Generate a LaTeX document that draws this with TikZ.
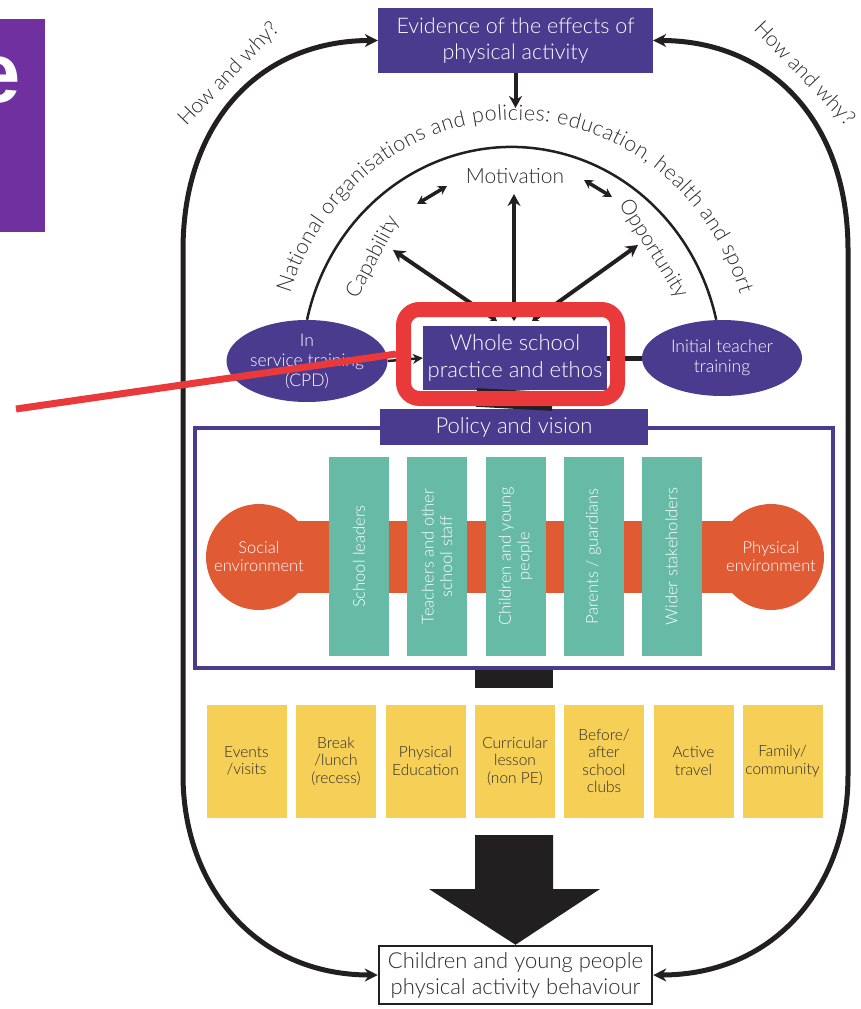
\documentclass[tikz,border=0pt]{standalone}
\usepackage{fontspec}
\IfFontExistsTF{Lato Light}{\setmainfont{Lato Light}}{\setmainfont{Lato}}
\newfontfamily\slidefont{Liberation Sans}
\usetikzlibrary{arrows.meta,decorations.text,shapes.geometric}

\definecolor{slidepurple}{RGB}{112,48,160}
\definecolor{deeppurple}{RGB}{74,59,143}
\definecolor{tealbox}{RGB}{102,186,166}
\definecolor{envorange}{RGB}{224,90,52}
\definecolor{actyellow}{RGB}{246,207,86}
\definecolor{callred}{RGB}{233,57,59}
\definecolor{ink}{RGB}{33,31,32}
\definecolor{txt}{RGB}{45,43,45}

\newcommand{\pxsize}[2]{\fontsize{#1}{#2}\selectfont}

\begin{document}
\begin{tikzpicture}[x=1pt,y=-1pt,
  panel/.style={rectangle, fill=deeppurple, text=white, align=center, inner sep=0pt},
  oval/.style={ellipse, fill=deeppurple, text=white, align=center, inner sep=0pt, font=\pxsize{17.5}{20}},
  group/.style={rectangle, fill=tealbox, text=white, align=center, inner sep=0pt, rotate=90,
    minimum width=199pt, minimum height=60pt, font=\pxsize{16.5}{18.5}},
  setting/.style={rectangle, fill=actyellow, text=txt, align=center, inner sep=0pt,
    minimum width=80pt, minimum height=113pt, font=\pxsize{15.5}{17.5}},
  env/.style={circle, fill=envorange, text=white, align=center, inner sep=0pt,
    minimum size=106pt, font=\pxsize{16.5}{18}},
  cue/.style={text=txt, inner sep=0pt, font=\pxsize{21}{25}},
  loopline/.style={ink, line width=5pt,
    {Stealth[length=13pt,width=13pt]}-{Stealth[length=13pt,width=13pt]}},
  spoke/.style={ink, line width=4pt,
    {Stealth[length=6pt,width=8pt]}-{Stealth[length=12pt,width=13pt]}},
  pair/.style={ink, line width=3.5pt,
    {Stealth[length=9pt,width=10pt]}-{Stealth[length=9pt,width=10pt]}}
]
\useasboundingbox (0,0) rectangle (861,1009);

% slide fragment on the left edge
\begin{scope}
  \clip (0,19) rectangle (45,232);
  \fill[slidepurple] (0,19) rectangle (45,232);
  \node[anchor=base east, inner sep=0pt, text=white, font=\slidefont\bfseries\fontsize{85}{90}\selectfont]
    (slideletter) at (20.5,102) {e};
\end{scope}

% top and bottom boxes with the feedback loops
\node[panel, minimum width=275pt, minimum height=65pt, font=\pxsize{21.5}{26}] (ev) at (515.5,40.5)
  {Evidence of the effects of\\physical activity};
\node[draw=ink, line width=2.5pt, fill=white, minimum width=273pt, minimum height=58pt,
  align=center, text=txt, inner sep=0pt, font=\pxsize{22}{26}] (beh) at (515.5,975)
  {Children and young people\\physical activity behaviour};

\draw[loopline] (ev.west) .. controls (262,40.5) and (183,120) .. (183,250)
  -- (183,775) .. controls (183,885) and (255,975) .. (beh.west);
\draw[loopline] (ev.east) .. controls (769,40.5) and (848,120) .. (848,250)
  -- (848,775) .. controls (848,885) and (776,975) .. (beh.east);

\node[cue, rotate=46] (howl) at (229,74) {How and why?};
\node[cue, rotate=-46] (howr) at (804,74) {How and why?};

\coordinate (evtip) at (515.5,108);
\draw[ink, line width=4pt, -{Stealth[length=12pt,width=13pt]}] (ev.south) -- (evtip);

% ovals and the central box
\node[oval, minimum width=160pt, minimum height=82pt] (cpd) at (307,361) {In\\service training\\(CPD)};
\node[oval, minimum width=160pt, minimum height=76pt] (itt) at (722,358) {Initial teacher\\training};
\node[panel, minimum width=184pt, minimum height=64pt, font=\pxsize{22}{27}] (ws) at (515,358)
  {Whole school\\practice and ethos};

% outer arc with its caption
\draw[ink, line width=2.5pt] (cpd.north) arc[start angle=167, end angle=13, x radius=210pt, y radius=223pt];
\path[decorate, decoration={text along path, text align=center, raise=10pt,
  text={|\pxsize{21.5}{25}\color{txt}|National organisations and policies: education, health and sport}}]
  (289.9,349.1) arc[start angle=175, end angle=5, x radius=226pt, y radius=240pt];

% capability, motivation, opportunity
\node[cue] (mot) at (515,176) {Motivation};
\node[cue, rotate=62] (cap) at (373,257) {Capability};
\node[cue, rotate=-58] (opp) at (653,249) {Opportunity};

\coordinate (hubl) at (497,321);
\coordinate (hubm) at (514,321);
\coordinate (hubr) at (532,321);
\coordinate (captip) at (393,250);
\coordinate (mottip) at (514,194);
\coordinate (opptip) at (638,245);
\draw[spoke] (hubl) -- (captip);
\draw[spoke] (hubm) -- (mottip);
\draw[spoke] (hubr) -- (opptip);

\coordinate (cml) at (417,204);
\coordinate (cmr) at (447,186);
\coordinate (mol) at (584,180);
\coordinate (mor) at (612,197);
\draw[pair] (cml) -- (cmr);
\draw[pair] (mol) -- (mor);

\draw[ink, line width=2.5pt, -{Stealth[length=10pt,width=10pt]}] (cpd.east) -- (ws.west);
\draw[ink, line width=5pt] (ws.east) -- (itt.west);

% policy frame with the people and the environments
\node[draw=deeppurple, line width=4pt, minimum width=638pt, minimum height=240pt, inner sep=0pt] (frame) at (514,548) {};
\node[panel, minimum width=268pt, minimum height=36pt, font=\pxsize{22}{26}] (pol) at (514,427) {Policy and vision};
\draw[ink, line width=76pt] (ws.south) -- (pol.north);

\coordinate (socc) at (259,557);
\coordinate (physc) at (771,557);
\draw[envorange, line width=72pt] (socc) -- (physc);
\node[env] (soc) at (socc) {Social\\environment};
\node[env] (phys) at (physc) {Physical\\environment};

\node[group] (lead) at (359,556.5) {School leaders};
\node[group] (staff) at (437,556.5) {Teachers and other\\school staff};
\node[group] (kids) at (515.5,556.5) {Children and young\\people};
\node[group] (parents) at (593.5,556.5) {Parents / guardians};
\node[group] (wider) at (671.5,556.5) {Wider stakeholders};

\coordinate (barend) at (514,688);
\draw[ink, line width=78pt] (frame.south) -- (barend);

% settings for activity
\node[setting] (events) at (246.5,761) {Events\\/visits};
\node[setting] (recess) at (336,761) {Break\\/lunch\\(recess)};
\node[setting] (pe) at (425.5,761) {Physical\\Education};
\node[setting] (lesson) at (515,761) {Curricular\\lesson\\(non PE)};
\node[setting] (clubs) at (604,761) {Before/\\after\\school\\clubs};
\node[setting] (travel) at (693.5,761) {Active\\travel};
\node[setting] (family) at (782.5,761) {Family/\\community};

% block arrow down to behaviour
\fill[ink] (475,835) -- (553,835) -- (553,889) -- (600,889) -- (beh.north) -- (429,889) -- (475,889) -- cycle;

% highlight frame and pointer
\node[draw=callred, line width=15pt, rounded corners=16pt, minimum width=214pt, minimum height=89pt, inner sep=0pt]
  (focus) at (510.5,354) {};
\coordinate (calltail) at (16,409);
\draw[callred, line width=7pt] (calltail) -- (focus.west);
\end{tikzpicture}
\end{document}
